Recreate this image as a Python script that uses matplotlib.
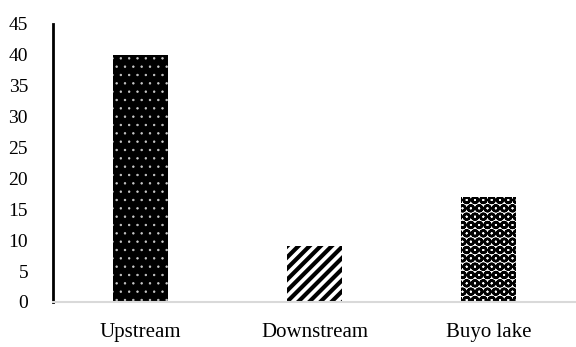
import matplotlib
matplotlib.use("Agg")
import matplotlib.pyplot as plt

categories = ["Upstream", "Downstream", "Buyo lake"]
values = [40, 9, 17]
yticks = [0, 5, 10, 15, 20, 25, 30, 35, 40, 45]

plt.rcParams['font.family'] = ['Liberation Serif', 'DejaVu Serif']

fig = plt.figure(figsize=(5.76, 3.47), dpi=100)
ax = fig.add_axes([53/576, 1-302/347, 523/576, 278/347])

x = list(range(len(categories)))
styles = [
    dict(color="black", edgecolor="#cccccc", hatch="..", hlw=0.5),
    dict(color="white", edgecolor="black", hatch="///", hlw=3.0),
    dict(color="white", edgecolor="black", hatch="OO", hlw=1.8),
]
for xi, v, st in zip(x, values, styles):
    plt.rcParams['hatch.linewidth'] = st["hlw"]
    b = ax.bar(xi, v, width=0.316, color=st["color"], edgecolor=st["edgecolor"],
               hatch=st["hatch"], linewidth=0)

ax.set_xlim(-0.5, 2.5)
ax.set_ylim(0, 45)
ax.set_yticks(yticks)
ax.set_yticklabels([str(t) for t in yticks], fontsize=14)
ax.set_xticks(x)
ax.set_xticklabels(categories, fontsize=15)
ax.tick_params(axis='y', length=0, pad=18)
ax.tick_params(axis='x', length=0, pad=15)
for s in ["top", "right"]:
    ax.spines[s].set_visible(False)
ax.spines["left"].set_linewidth(2)
ax.spines["left"].set_color("black")
ax.spines["bottom"].set_linewidth(1.5)
ax.spines["bottom"].set_color("#d9d9d9")

fig.savefig("out.png", dpi=100)
